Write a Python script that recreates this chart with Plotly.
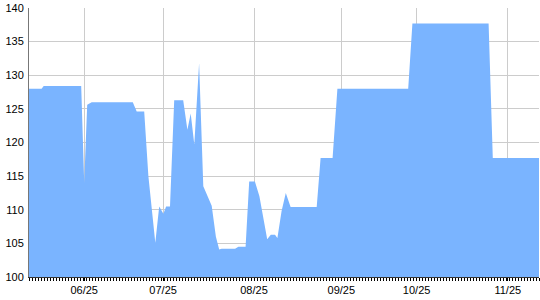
import plotly.graph_objects as go

# x positions are sample indices along the time axis
idx = [0, 4.2, 4.9, 17.4, 18.4, 19.4, 20.9, 34.6, 35.9, 38.4, 39.8, 42.1, 43.4, 44.8,
       45.7, 47.0, 48.4, 51.4, 52.8, 53.9, 55.1, 56.7, 58.1, 60.9, 62.3, 63.4, 64.2,
       68.7, 69.8, 72.2, 73.4, 75.3, 76.8, 79.4, 80.6, 82.0, 82.8, 84.2, 85.6, 87.2,
       95.9, 97.2, 101.2, 102.8, 126.4, 127.8, 153.2, 154.6, 170]
values = [128.0, 128.0, 128.4, 128.4, 114.0, 125.6, 126.0, 126.0, 124.6, 124.6, 115.0,
          105.1, 110.5, 109.4, 110.5, 110.5, 126.3, 126.3, 121.9, 124.3, 119.7, 131.8,
          113.5, 110.6, 106.0, 104.1, 104.2, 104.2, 104.5, 104.5, 114.2, 114.2, 112.0,
          105.6, 106.3, 106.3, 105.8, 109.8, 112.5, 110.4, 110.4, 117.7, 117.7, 128.0,
          128.0, 137.7, 137.7, 117.7, 117.7]
tick_pos = [18.4, 44.7, 75.0, 104.1, 129.2, 159.6]
tick_labels = ["06/25", "07/25", "08/25", "09/25", "10/25", "11/25"]

fig = go.Figure()
fig.add_trace(go.Scatter(
    x=idx, y=values, mode="lines", fill="tozeroy",
    fillcolor="rgb(122,180,255)", line=dict(width=0, color="rgb(122,180,255)"),
    hoverinfo="skip", showlegend=False,
))

font = dict(family="Liberation Sans, Arial, sans-serif", size=11, color="#000")
fig.update_layout(
    width=540, height=300,
    margin=dict(l=29, r=1, t=8, b=23),
    paper_bgcolor="white", plot_bgcolor="white",
    font=font,
    xaxis=dict(
        range=[0, 170], tickvals=tick_pos, ticktext=tick_labels,
        showgrid=True, gridcolor="#cccccc", gridwidth=1,
        showline=True, linecolor="#333333", linewidth=1,
        ticks="outside", ticklen=3, tickcolor="#000", zeroline=False,
        minor=dict(dtick=1, tick0=0, ticks="outside", ticklen=3, tickcolor="#000", showgrid=False),
        tickfont=font,
    ),
    yaxis=dict(
        range=[100, 140], dtick=5, tick0=100,
        showgrid=True, gridcolor="#cccccc", gridwidth=1,
        showline=True, linecolor="#777777", linewidth=1,
        ticks="", zeroline=False, tickfont=font, ticklabelstandoff=2,
    ),
)
fig.write_html("out.html")
